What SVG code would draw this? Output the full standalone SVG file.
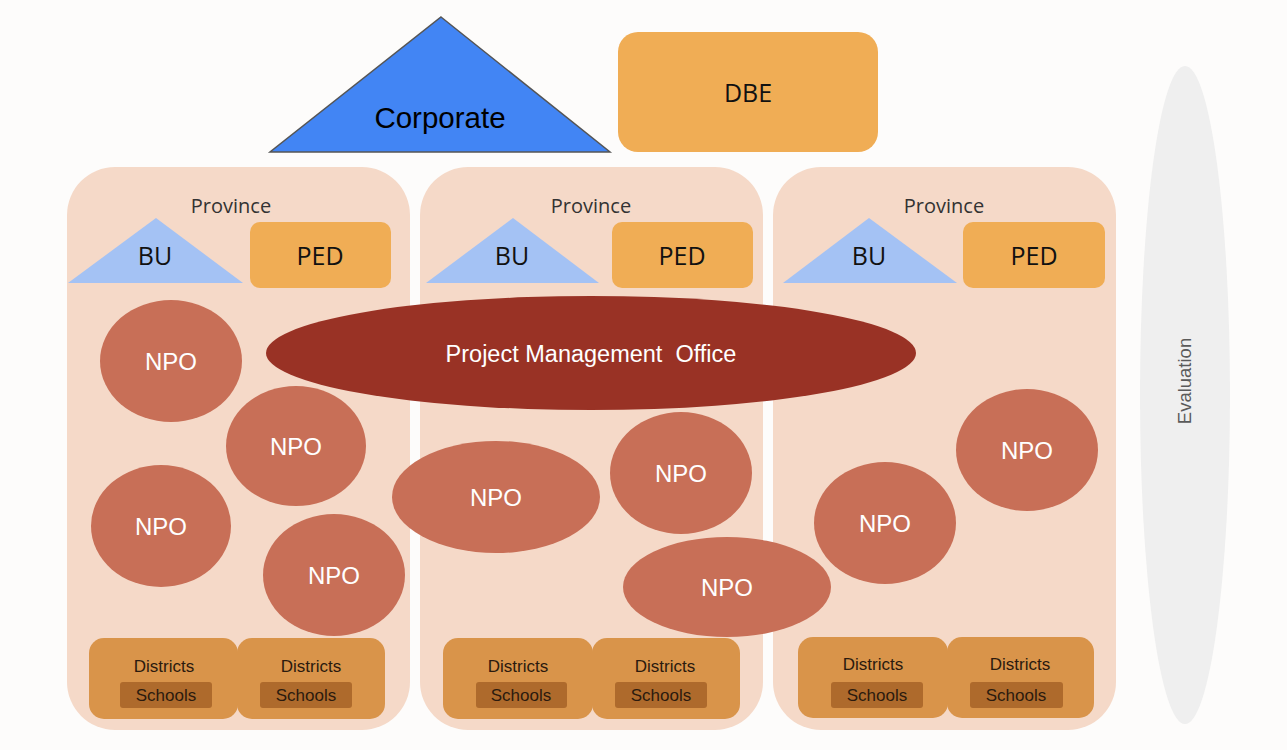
<svg xmlns="http://www.w3.org/2000/svg" width="1287" height="750" viewBox="0 0 1287 750">
<style>
.panel{fill:#f5d9c8}
.bu{fill:#a4c2f4}
.ped{fill:#f0ad55}
.npo{fill:#c86f57}
.dist{fill:#d9944a}
.sch{fill:#ae6a2c}
.mont{font-family:"Open Sans","Liberation Sans",sans-serif;text-anchor:middle}
.ari{font-family:"Liberation Sans",Arial,sans-serif;text-anchor:middle}
.prov{font-size:20px;fill:#333}
.lab{font-size:25px;fill:#111}
.npot{font-size:24px;fill:#ffffff}
.dt{font-size:17px;fill:#2b1a0e}
</style>
<rect x="0" y="0" width="1287" height="750" fill="#fdfcfb"/>

<g id="evaluation">
<ellipse cx="1185" cy="395" rx="45" ry="329" fill="#efefef"/>
<text class="ari" x="0" y="0" font-size="18.5" fill="#5a5a5a" transform="translate(1191,381) rotate(-90)">Evaluation</text>
</g>

<g id="corporate">
<polygon points="441,17 610,152 270,152" fill="#4285f4" stroke="#555" stroke-width="1.5"/>
<text class="ari" x="440" y="128" font-size="29.5" fill="#000">Corporate</text>
</g>

<g id="dbe">
<rect x="618" y="32" width="260" height="120" rx="20" class="ped"/>
<text class="mont lab" x="748" y="102" font-size="26">DBE</text>
</g>

<g id="province1">
<rect x="67" y="167" width="343" height="563" rx="48" class="panel"/>
<text class="mont prov" x="231" y="213">Province</text>
<polygon points="156,218 243,283 68,283" class="bu"/>
<text class="mont lab" x="155" y="265">BU</text>
<rect x="250" y="222" width="141" height="66" rx="10" class="ped"/>
<text class="mont lab" x="320" y="265">PED</text>
</g>
<g id="province2">
<rect x="420" y="167" width="343" height="563" rx="48" class="panel"/>
<text class="mont prov" x="591" y="213">Province</text>
<polygon points="513,218 599,283 426,283" class="bu"/>
<text class="mont lab" x="512" y="265">BU</text>
<rect x="612" y="222" width="141" height="66" rx="10" class="ped"/>
<text class="mont lab" x="682" y="265">PED</text>
</g>
<g id="province3">
<rect x="773" y="167" width="343" height="563" rx="48" class="panel"/>
<text class="mont prov" x="944" y="213">Province</text>
<polygon points="869,218 957,283 783,283" class="bu"/>
<text class="mont lab" x="869" y="265">BU</text>
<rect x="963" y="222" width="142" height="66" rx="10" class="ped"/>
<text class="mont lab" x="1034" y="265">PED</text>
</g>

<g id="districts1">
<rect x="89" y="638" width="149" height="81" rx="15" class="dist"/>
<rect x="237" y="638" width="148" height="81" rx="15" class="dist"/>
<rect x="120" y="682" width="92" height="26" rx="3" class="sch"/>
<rect x="260" y="682" width="92" height="26" rx="3" class="sch"/>
<text class="ari dt" x="164" y="672">Districts</text>
<text class="ari dt" x="311" y="672">Districts</text>
<text class="ari dt" x="166" y="701">Schools</text>
<text class="ari dt" x="306" y="701">Schools</text>
</g>
<g id="districts2">
<rect x="443" y="638" width="150" height="81" rx="15" class="dist"/>
<rect x="592" y="638" width="148" height="81" rx="15" class="dist"/>
<rect x="476" y="682" width="91" height="26" rx="3" class="sch"/>
<rect x="615" y="682" width="92" height="26" rx="3" class="sch"/>
<text class="ari dt" x="518" y="672">Districts</text>
<text class="ari dt" x="665" y="672">Districts</text>
<text class="ari dt" x="521" y="701">Schools</text>
<text class="ari dt" x="661" y="701">Schools</text>
</g>
<g id="districts3">
<rect x="798" y="637" width="150" height="81" rx="15" class="dist"/>
<rect x="947" y="637" width="147" height="81" rx="15" class="dist"/>
<rect x="831" y="682" width="92" height="26" rx="3" class="sch"/>
<rect x="970" y="682" width="93" height="26" rx="3" class="sch"/>
<text class="ari dt" x="873" y="670">Districts</text>
<text class="ari dt" x="1020" y="670">Districts</text>
<text class="ari dt" x="877" y="701">Schools</text>
<text class="ari dt" x="1016" y="701">Schools</text>
</g>

<g id="npo1"><ellipse cx="171" cy="361" rx="71" ry="61" class="npo"/><text class="ari npot" x="171" y="370">NPO</text></g>
<g id="npo2"><ellipse cx="296" cy="446" rx="70" ry="60" class="npo"/><text class="ari npot" x="296" y="455">NPO</text></g>
<g id="npo3"><ellipse cx="161" cy="526" rx="70" ry="61" class="npo"/><text class="ari npot" x="161" y="535">NPO</text></g>
<g id="npo4"><ellipse cx="334" cy="575" rx="71" ry="61" class="npo"/><text class="ari npot" x="334" y="584">NPO</text></g>
<g id="npo5"><ellipse cx="496" cy="497" rx="104" ry="56" class="npo"/><text class="ari npot" x="496" y="506">NPO</text></g>
<g id="npo6"><ellipse cx="681" cy="473" rx="71" ry="61" class="npo"/><text class="ari npot" x="681" y="482">NPO</text></g>
<g id="npo7"><ellipse cx="727" cy="587" rx="104" ry="50" class="npo"/><text class="ari npot" x="727" y="596">NPO</text></g>
<g id="npo8"><ellipse cx="885" cy="523" rx="71" ry="61" class="npo"/><text class="ari npot" x="885" y="532">NPO</text></g>
<g id="npo9"><ellipse cx="1027" cy="450" rx="71" ry="61" class="npo"/><text class="ari npot" x="1027" y="459">NPO</text></g>

<g id="pmo">
<ellipse cx="591" cy="353" rx="325" ry="57" fill="#993225"/>
<text class="ari" x="591" y="362" font-size="23.5" fill="#ffffff">Project Management&#160; Office</text>
</g>

<g id="connectors"></g>
</svg>
